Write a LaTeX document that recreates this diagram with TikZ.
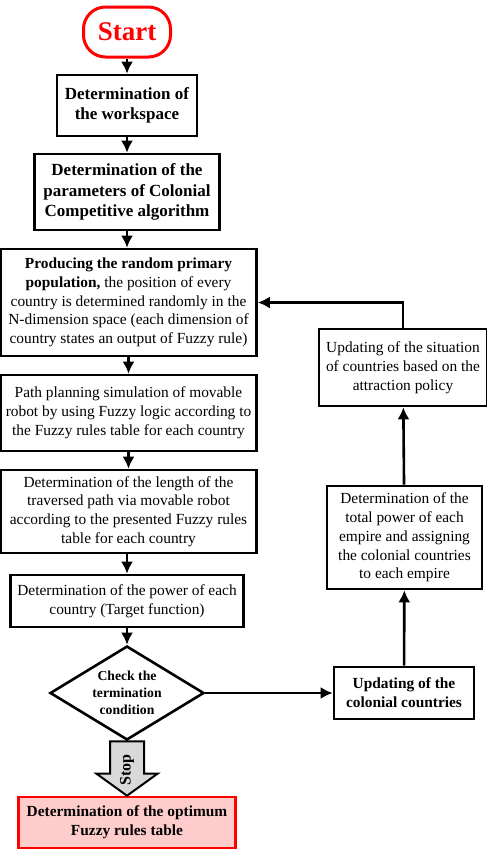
\documentclass[tikz,border=0pt]{standalone}
\usepackage{fontspec}
\setmainfont{Liberation Serif}
\usetikzlibrary{shapes.geometric,arrows.meta}

\begin{document}
\begin{tikzpicture}[x=1pt,y=-1pt,
  procbox/.style={draw,line width=2.6pt,align=center,inner sep=0pt,
    font=\fontsize{15.4}{18.8}\selectfont},
  boldbox/.style={procbox,font=\fontsize{15.4}{18.8}\selectfont\bfseries},
  bigbox/.style={procbox,font=\fontsize{17}{20.6}\selectfont\bfseries},
  flow/.style={line width=2.6pt,-{Latex[length=12pt,width=12pt]}}]
\useasboundingbox (0,0) rectangle (487,849);

\node[draw=red,line width=3pt,rounded corners=22pt,minimum width=87pt,minimum height=50pt,
  text=red,font=\fontsize{27}{30}\selectfont\bfseries] (start) at (127,32) {Start};
\node[bigbox,minimum width=140pt,minimum height=61pt] (ws) at (127,105.5)
  {Determination of\\the workspace};
\node[bigbox,minimum width=185pt,minimum height=76pt] (par) at (127,192)
  {Determination of the\\parameters of Colonial\\Competitive algorithm};
\node[procbox,minimum width=256pt,minimum height=107pt] (pop) at (128.5,302.5)
  {\textbf{Producing the random primary}\\\textbf{population,} the position of every\\country is determined randomly in the\\N-dimension space (each dimension of\\country states an output of Fuzzy rule)};
\node[procbox,minimum width=256pt,minimum height=76pt] (path) at (128.5,413)
  {Path planning simulation of movable\\robot by using Fuzzy logic according to\\the Fuzzy rules table for each country};
\node[procbox,minimum width=256pt,minimum height=83pt] (len) at (128.5,511.5)
  {Determination of the length of the\\traversed path via movable robot\\according to the presented Fuzzy rules\\table for each country};
\node[procbox,minimum width=233pt,minimum height=52pt] (pow) at (127,601)
  {Determination of the power of each\\country (Target function)};
\node[diamond,draw,line width=2.6pt,aspect=1.64,inner sep=0pt,minimum width=154pt,minimum height=94pt,
  align=center,font=\fontsize{13.7}{16.8}\selectfont\bfseries] (chk) at (127,693)
  {Check the\\termination\\condition};
\node[boldbox,draw=red,fill=red!20,minimum width=217pt,minimum height=51pt] (fin) at (127,822.5)
  {Determination of the optimum\\Fuzzy rules table};

\node[boldbox,minimum width=140pt,minimum height=52pt] (upd) at (404,693)
  {Updating of the\\colonial countries};
\node[procbox,minimum width=155pt,minimum height=103pt] (tot) at (404.5,537.5)
  {Determination of the\\total power of each\\empire and assigning\\the colonial countries\\to each empire};
\node[procbox,minimum width=168pt,minimum height=77pt] (sit) at (403,367.5)
  {Updating of the situation\\of countries based on the\\attraction policy};

% main column
\draw[flow] (start) -- (ws);
\draw[flow] (ws) -- (par);
\draw[flow] (par) -- (par |- pop.north);
\draw[flow] (pop) -- (path);
\draw[flow] (path) -- (len);
\draw[flow] (len.south -| pow) -- (pow);
\draw[flow] (pow) -- (chk);

% stop arrow
\draw[line width=2pt,fill=gray!30] ([xshift=-17pt]chk.south) -- ([xshift=-17pt,yshift=22pt]fin.north)
  -- ([xshift=-30.5pt,yshift=22pt]fin.north) -- (fin.north) -- ([xshift=30.5pt,yshift=22pt]fin.north)
  -- ([xshift=17pt,yshift=22pt]fin.north) -- ([xshift=17pt]chk.south) -- cycle;
\node[rotate=90,font=\fontsize{16}{18}\selectfont\bfseries] (stop) at (127,770) {Stop};

% loop back
\draw[flow] (chk) -- (upd);
\draw[flow] (upd) -- (tot);
\draw[flow] (tot) -- (sit);
\draw[flow] (sit.north) |- (pop.east);
\end{tikzpicture}
\end{document}
